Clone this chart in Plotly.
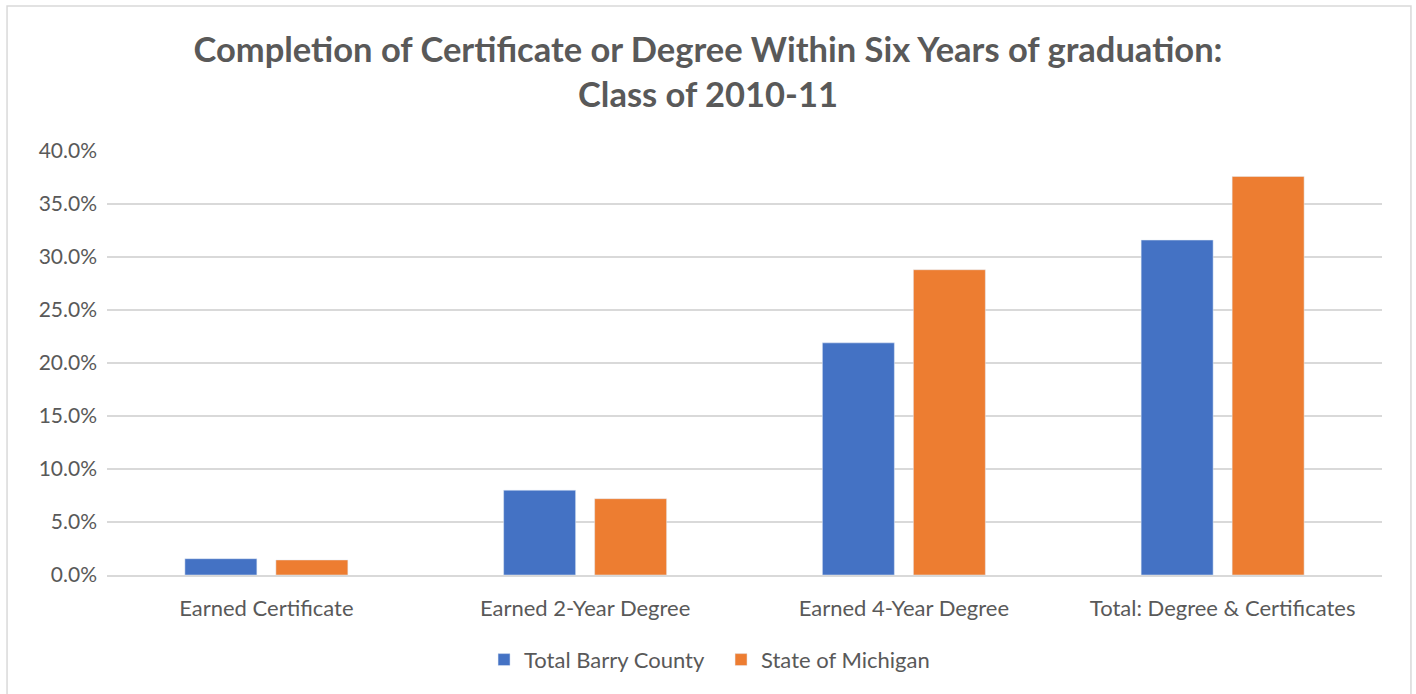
import plotly.graph_objects as go

categories = ['Earned Certificate', 'Earned 2-Year Degree', 'Earned 4-Year Degree', 'Total: Degree & Certificates']
barry_county = [0.0154, 0.080, 0.219, 0.316]
michigan = [0.0142, 0.072, 0.288, 0.376]

font_name = 'Lato'
grey = '#595959'

fig = go.Figure()
fig.add_trace(go.Bar(x=categories, y=barry_county, name='Total Barry County', marker=dict(color='#4472C4')))
fig.add_trace(go.Bar(x=categories, y=michigan, name='State of Michigan', marker=dict(color='#ED7D31')))

fig.update_layout(
    width=1416, height=694,
    margin=dict(l=107, r=34, t=151, b=119),
    paper_bgcolor='white', plot_bgcolor='white',
    barmode='group', bargap=0.429, bargroupgap=0.209,
    font=dict(family=font_name, size=21, color=grey),
    title=dict(text='<b>Completion of Certificate or Degree Within Six Years of graduation:<br>Class of 2010-11</b>',
               font=dict(family=font_name, size=34.5, color=grey), x=0.5, xanchor='center', y=0.91, yanchor='middle'),
    legend=dict(orientation='h', x=0.4816, xanchor='center', y=-0.2, yanchor='middle',
                font=dict(size=22, color=grey), bgcolor='rgba(0,0,0,0)', itemwidth=30, entrywidth=192),
    showlegend=True,
)
fig.update_yaxes(range=[0, 0.4], dtick=0.05, tickformat='.1%', gridcolor='#D9D9D9', gridwidth=1.5,
                 zeroline=False, showline=False, ticks='', ticklabelstandoff=9)
fig.update_xaxes(showline=True, linecolor='#D9D9D9', linewidth=1.5, ticks='', ticklabelstandoff=13,
                 tickfont=dict(size=22))
fig.add_shape(type='rect', xref='paper', yref='paper', x0=-0.0784, x1=1.0227, y0=-0.285, y1=1.342,
              line=dict(color='#D9D9D9', width=1.5), fillcolor='rgba(0,0,0,0)')

fig.write_html('out.html', config={'displayModeBar': False},
               post_script="document.body.style.margin='0';")
